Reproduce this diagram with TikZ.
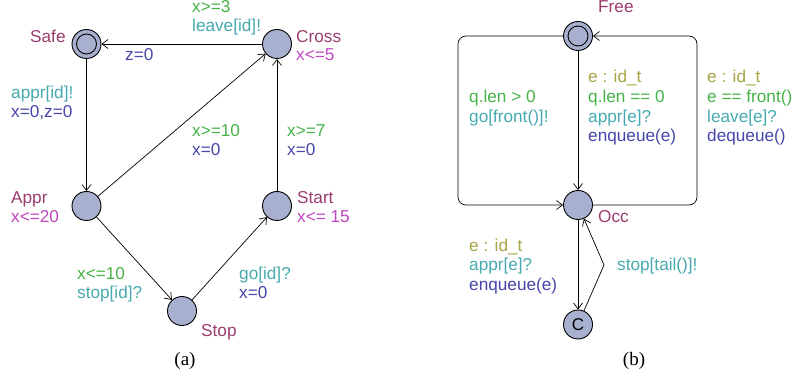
\documentclass[tikz,border=0pt]{standalone}
\usepackage{fontspec}
\setmainfont{Liberation Sans}
\newfontfamily\capfont{Liberation Serif}
\usetikzlibrary{arrows.meta}

\definecolor{locfill}{RGB}{167,176,206}
\definecolor{namecol}{RGB}{155,60,110}
\definecolor{invcol}{RGB}{190,70,190}
\definecolor{guardcol}{RGB}{70,178,70}
\definecolor{synccol}{RGB}{70,170,175}
\definecolor{updcol}{RGB}{70,70,170}
\definecolor{selcol}{RGB}{165,165,70}

\tikzset{
  loc/.style={circle, draw=black, fill=locfill, line width=0.9pt,
              minimum size=29pt, inner sep=0pt},
  edge/.style={draw=black, line width=0.7pt,
               -{Straight Barb[length=6pt,width=9pt,line width=0.7pt]}},
  lbl/.style={anchor=base west, inner sep=0pt, font=\fontsize{17.2}{19}\selectfont},
  lname/.style={lbl, text=namecol},
  linv/.style={lbl, text=invcol},
  lguard/.style={lbl, text=guardcol},
  lsync/.style={lbl, text=synccol},
  lupd/.style={lbl, text=updcol},
  lsel/.style={lbl, text=selcol},
  caption/.style={anchor=base, inner sep=0pt, font=\capfont\fontsize{19}{22}\selectfont}
}

\begin{document}
\begin{tikzpicture}[x=1pt,y=-1pt]
\useasboundingbox (0,0) rectangle (793,379);

% ---------------- (a) train automaton ----------------
\node[loc] (safe)  at (86.5,44) {};
\draw[line width=0.9pt] (safe.center) circle (10);
\node[loc] (cross) at (277,44) {};
\node[loc] (appr)  at (86.5,206) {};
\node[loc] (start) at (277,206) {};
\node[loc] (stop)  at (182,311) {};

\draw[edge] (cross) -- (safe);
\draw[edge] (safe) -- (appr);
\draw[edge] (appr) -- (cross);
\draw[edge] (start) -- (cross);
\draw[edge] (appr) -- (stop);
\draw[edge] (stop) -- (start);

\node[lname] (nsafe)  at (30,42.5) {Safe};
\node[lname] (ncross) at (296,42.5) {Cross};
\node[linv]  (icross) at (296,61) {x<=5};
\node[lname] (nappr)  at (11,204) {Appr};
\node[linv]  (iappr)  at (11,223) {x<=20};
\node[lname] (nstart) at (297,204) {Start};
\node[linv]  (istart) at (297,223) {x<= 15};
\node[lname] (nstop)  at (201,337) {Stop};

\node[lguard] (g1) at (192,13) {x>=3};
\node[lsync]  (s1) at (192,32) {leave[id]!};
\node[lupd]   (u1) at (125,61) {z=0};
\node[lsync]  (s2) at (11,99) {appr[id]!};
\node[lupd]   (u2) at (11,118) {x=0,z=0};
\node[lguard] (g3) at (192,137) {x>=10};
\node[lupd]   (u3) at (192,156) {x=0};
\node[lguard] (g4) at (287,137) {x>=7};
\node[lupd]   (u4) at (287,156) {x=0};
\node[lguard] (g5) at (77,280) {x<=10};
\node[lsync]  (s5) at (77,299) {stop[id]?};
\node[lsync]  (s6) at (239,280) {go[id]?};
\node[lupd]   (u6) at (239,299) {x=0};

\node[caption] (capa) at (185,366) {(a)};

% ---------------- (b) gate automaton ----------------
\node[loc] (free) at (578,36) {};
\draw[line width=0.9pt] (free.center) circle (10);
\node[loc] (occ)  at (578,205) {};
\node[loc, font=\fontsize{17}{19}\selectfont] (com) at (578,324.5) {C};

\coordinate (lt) at (458,36);
\coordinate (lb) at (458,205);
\coordinate (rt) at (697,36);
\coordinate (rb) at (697,205);
\coordinate (kink) at (604,265);

\draw[edge] (free) -- (occ);
\draw[edge, rounded corners=8pt] (free.west) -- (lt) -- (lb) -- (occ.west);
\draw[edge, rounded corners=8pt] (occ.east) -- (rb) -- (rt) -- (free.east);
\draw[edge] (occ) -- (com);
\draw[edge] (com) -- (kink) -- (occ);

\node[lname] (nfree) at (598,13) {Free};
\node[lname] (nocc)  at (598,223) {Occ};

\node[lguard] (g7) at (469,103) {q.len > 0};
\node[lsync]  (s7) at (469,123) {go[front()]!};

\node[lsel]   (e8) at (588,83) {e : id\_t};
\node[lguard] (g8) at (588,103) {q.len == 0};
\node[lsync]  (s8) at (588,123) {appr[e]?};
\node[lupd]   (u8) at (588,142) {enqueue(e)};

\node[lsel]   (e9) at (707,83) {e : id\_t};
\node[lguard] (g9) at (707,103) {e == front()};
\node[lsync]  (s9) at (707,123) {leave[e]?};
\node[lupd]   (u9) at (707,142) {dequeue()};

\node[lsel]   (e10) at (469,252) {e : id\_t};
\node[lsync]  (s10) at (469,271) {appr[e]?};
\node[lupd]   (u10) at (469,291) {enqueue(e)};

\node[lsync]  (s11) at (617,271) {stop[tail()]!};

\node[caption] (capb) at (634,366) {(b)};
\end{tikzpicture}
\end{document}
